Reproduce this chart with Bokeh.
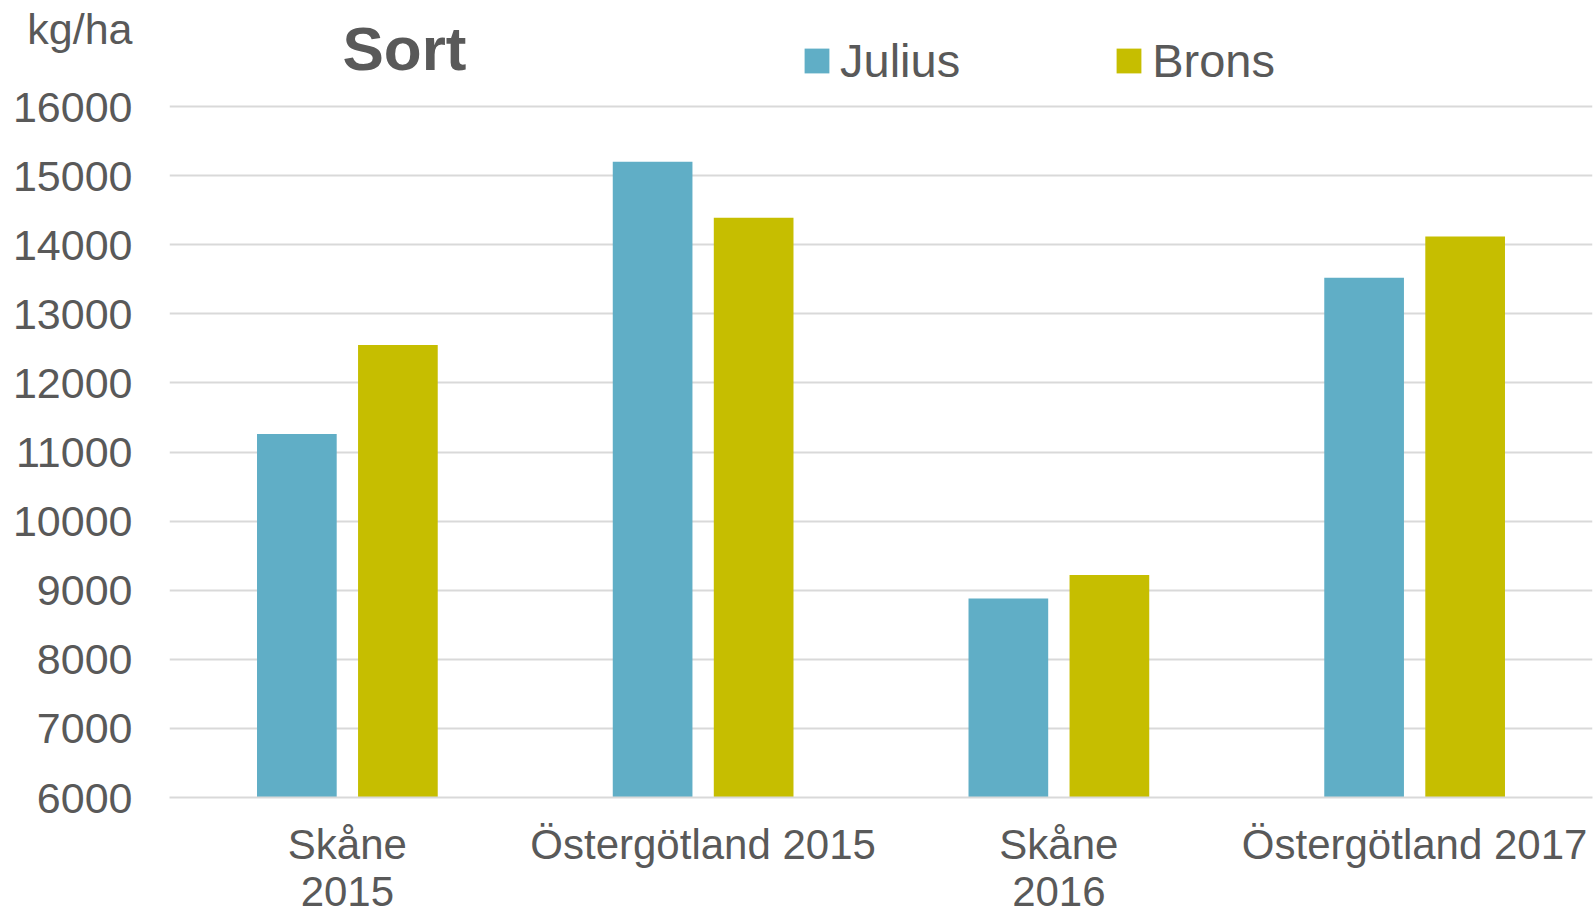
from bokeh.plotting import figure
from bokeh.models import (FactorRange, Range1d, FixedTicker, Legend, LegendItem,
                          Label, ColumnDataSource)
from bokeh.transform import dodge
from bokeh.embed import file_html
from bokeh.resources import INLINE

# ---- data ----
categories = ["Skåne\n2015", "Östergötland 2015", "Skåne\n2016", "Östergötland 2017"]
julius = [11260, 15200, 8880, 13520]
brons = [12550, 14390, 9220, 14120]
series_names = ["Julius", "Brons"]
y_ticks = [6000, 7000, 8000, 9000, 10000, 11000, 12000, 13000, 14000, 15000, 16000]
title_text = "Sort"
unit_text = "kg/ha"

FONT = "Liberation Sans"
TEXT = "#595959"
C_JUL = "#60AEC6"
C_BRO = "#C6BE00"

# ---- layout constants (pixels) ----
W, H = 1596, 918
FRAME_LEFT, FRAME_RIGHT_BORDER = 169, 4
FRAME_BOTTOM = 797          # pixel row of the 6000 baseline
Y_TOP_TICK_PX = 106         # pixel row of the 16000 gridline
UNIT_PX = 28                # pixel row of the "kg/ha" text centre

y0, y1 = y_ticks[0], y_ticks[-1]
px_per_unit = (FRAME_BOTTOM - Y_TOP_TICK_PX) / (y1 - y0)
y_end = y0 + FRAME_BOTTOM / px_per_unit
unit_tick = y0 + (FRAME_BOTTOM - UNIT_PX) / px_per_unit

src = ColumnDataSource(dict(cat=categories, julius=julius, brons=brons))

p = figure(width=W, height=H, x_range=FactorRange(*categories),
           y_range=Range1d(y0, y_end), output_backend="svg", toolbar_location=None,
           min_border_left=FRAME_LEFT, min_border_right=FRAME_RIGHT_BORDER,
           min_border_top=0, min_border_bottom=H - FRAME_BOTTOM)
p.outline_line_color = None
p.background_fill_color = "white"
p.border_fill_color = "white"

r1 = p.vbar(x=dodge("cat", -0.142, range=p.x_range), top="julius", bottom=y0, width=0.224,
            source=src, fill_color=C_JUL, line_color=None)
r2 = p.vbar(x=dodge("cat", 0.142, range=p.x_range), top="brons", bottom=y0, width=0.224,
            source=src, fill_color=C_BRO, line_color=None)

p.xgrid.grid_line_color = None
p.ygrid.grid_line_color = "#D9D9D9"
p.ygrid.grid_line_width = 2
p.ygrid.ticker = FixedTicker(ticks=y_ticks)

# the unit text sits at the top of the value axis, as an extra tick label
p.yaxis.ticker = FixedTicker(ticks=y_ticks + [unit_tick])
p.yaxis.major_label_overrides = {**{t: str(t) for t in y_ticks}, unit_tick: unit_text}
p.yaxis.axis_line_color = None
p.yaxis.major_tick_line_color = None
p.yaxis.minor_tick_line_color = None
p.yaxis.major_label_text_font_size = "43px"
p.yaxis.major_label_text_font = FONT
p.yaxis.major_label_text_color = TEXT
p.yaxis.major_label_standoff = 31

p.xaxis.axis_line_color = "#D9D9D9"
p.xaxis.axis_line_width = 2
p.xaxis.major_tick_line_color = None
p.xaxis.minor_tick_line_color = None
p.xaxis.major_label_text_font_size = "42px"
p.xaxis.major_label_text_font = FONT
p.xaxis.major_label_text_color = TEXT
p.xaxis.major_label_text_line_height = 1.02
p.xaxis.major_label_standoff = 17

legend = Legend(items=[LegendItem(label=series_names[0], renderers=[r1]),
                       LegendItem(label=series_names[1], renderers=[r2])],
                orientation="horizontal", location=(632, 709),
                glyph_width=31, glyph_height=31, label_standoff=8, spacing=153,
                padding=0, margin=0, border_line_color=None, background_fill_alpha=0,
                label_text_font_size="47px", label_text_color=TEXT, label_text_font=FONT)
p.add_layout(legend)

p.add_layout(Label(x=173, y=FRAME_BOTTOM - 48, x_units="screen", y_units="screen",
                   text=title_text, text_font_size="62px", text_font_style="bold",
                   text_color=TEXT, text_font=FONT, text_baseline="alphabetic"))

open("out.html", "w").write(file_html(p, INLINE))
